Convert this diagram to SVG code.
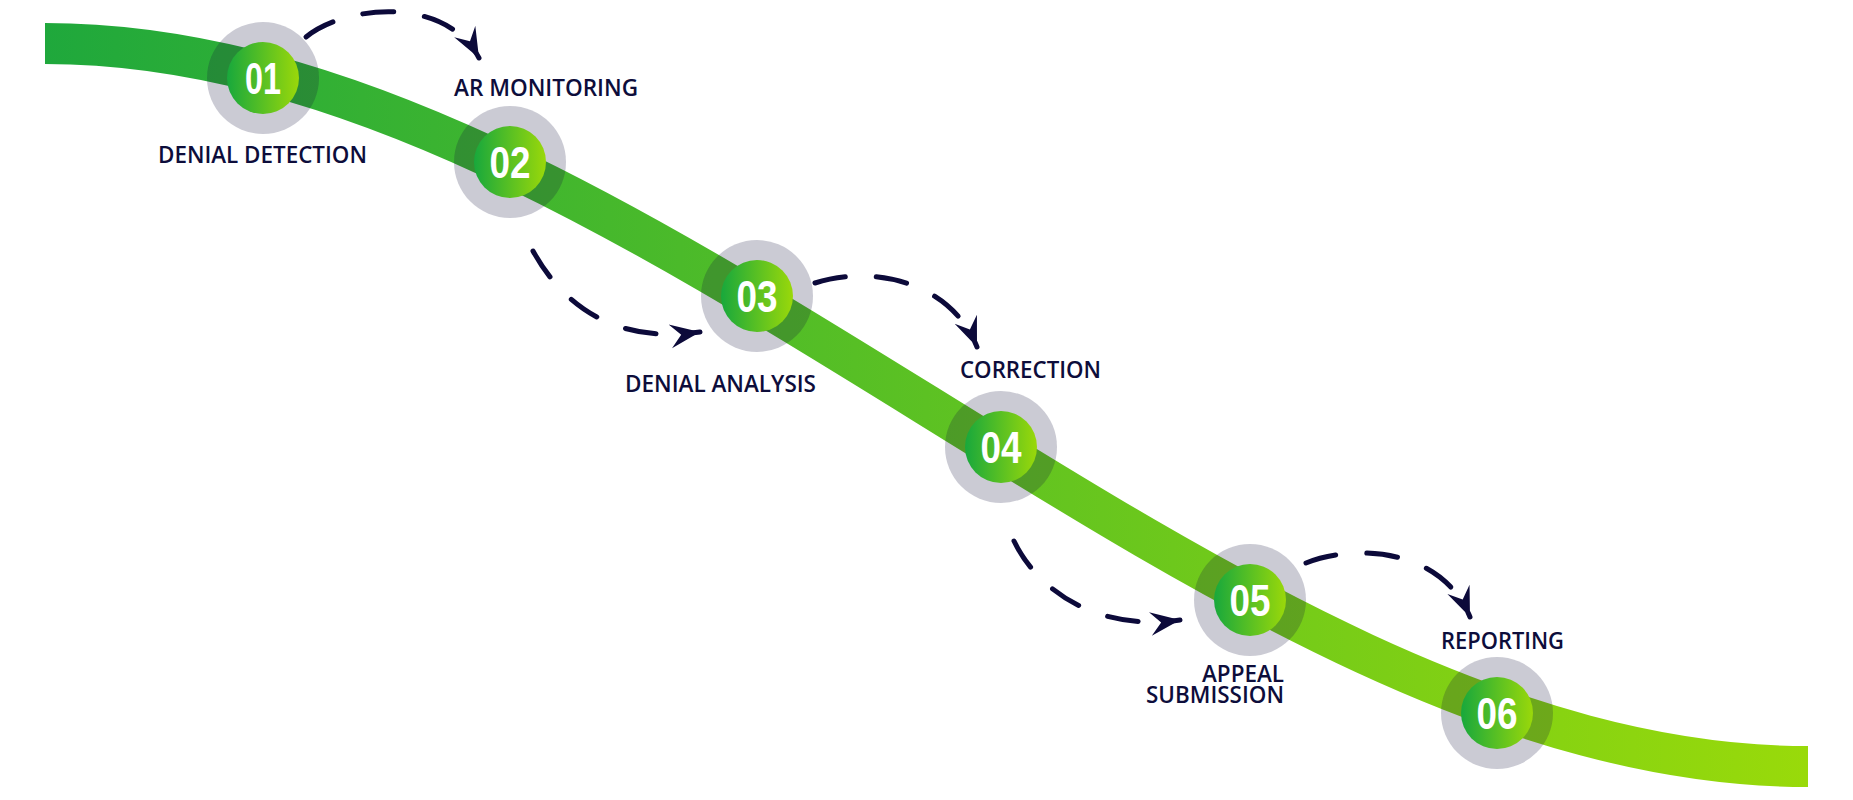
<svg xmlns="http://www.w3.org/2000/svg" width="1853" height="800" viewBox="0 0 1853 800">
  <defs>
    <linearGradient id="bandGrad" gradientUnits="userSpaceOnUse" x1="45" y1="0" x2="1808" y2="0">
      <stop offset="0" stop-color="#1fa83c"/>
      <stop offset="1" stop-color="#99da0a"/>
    </linearGradient>
    <linearGradient id="innerGrad" x1="0" y1="0" x2="1" y2="0">
      <stop offset="0" stop-color="#18a83c"/>
      <stop offset="1" stop-color="#9ad80a"/>
    </linearGradient>
    <marker id="arrow" viewBox="0 0 30 26" refX="30" refY="13" markerWidth="30" markerHeight="26" markerUnits="userSpaceOnUse" orient="auto">
      <path d="M30,13 L0,1 L11,13 L0,25 Z" fill="#0c0a3a"/>
    </marker>
    <style>
      .halo { fill: #14143c; fill-opacity: 0.22; }
      .core { fill: url(#innerGrad); }
      .num { font-family: "Liberation Sans", Arial, sans-serif; font-weight: bold; font-size: 45px; fill: #ffffff; text-anchor: middle; }
      .label { font-family: "Open Sans", "Liberation Sans", sans-serif; font-weight: 600; font-size: 23px; fill: #0d0d3b; }
      .flow { fill: none; stroke: #0c0a3a; stroke-width: 5; stroke-dasharray: 31 31; stroke-linecap: round; marker-end: url(#arrow); }
    </style>
  </defs>

  <g id="band">
    <path d="M45,43.5 C642,43.5 1211,766.5 1808,766.5" fill="none" stroke="url(#bandGrad)" stroke-width="41"/>
  </g>

  <g id="connectors">
    <path class="flow" d="M306,37 C345,5 445,-5 479,58"/>
    <path class="flow" d="M533,251 C560,300 610,345 700,332"/>
    <path class="flow" d="M815,283 C870,265 950,280 977,347"/>
    <path class="flow" d="M1014,541 C1035,585 1090,632 1180,620"/>
    <path class="flow" d="M1306,563 C1350,545 1440,545 1470,617"/>
  </g>

  <g id="step01">
    <circle class="halo" cx="263" cy="78" r="56"/>
    <circle class="core" cx="263" cy="78" r="36"/>
    <text class="num" x="263" y="94" textLength="36" lengthAdjust="spacingAndGlyphs">01</text>
    <text class="label" x="158" y="163" textLength="209" lengthAdjust="spacingAndGlyphs">DENIAL DETECTION</text>
  </g>

  <g id="step02">
    <circle class="halo" cx="510" cy="162" r="56"/>
    <circle class="core" cx="510" cy="162" r="36"/>
    <text class="num" x="510" y="178" textLength="41" lengthAdjust="spacingAndGlyphs">02</text>
    <text class="label" x="454" y="96" textLength="184" lengthAdjust="spacingAndGlyphs">AR MONITORING</text>
  </g>

  <g id="step03">
    <circle class="halo" cx="757" cy="296" r="56"/>
    <circle class="core" cx="757" cy="296" r="36"/>
    <text class="num" x="757" y="312" textLength="41" lengthAdjust="spacingAndGlyphs">03</text>
    <text class="label" x="625" y="392" textLength="191" lengthAdjust="spacingAndGlyphs">DENIAL ANALYSIS</text>
  </g>

  <g id="step04">
    <circle class="halo" cx="1001" cy="447" r="56"/>
    <circle class="core" cx="1001" cy="447" r="36"/>
    <text class="num" x="1001" y="463" textLength="41" lengthAdjust="spacingAndGlyphs">04</text>
    <text class="label" x="960" y="378" textLength="141" lengthAdjust="spacingAndGlyphs">CORRECTION</text>
  </g>

  <g id="step05">
    <circle class="halo" cx="1250" cy="600" r="56"/>
    <circle class="core" cx="1250" cy="600" r="36"/>
    <text class="num" x="1250" y="616" textLength="41" lengthAdjust="spacingAndGlyphs">05</text>
    <text class="label" x="1284" y="682" text-anchor="end" textLength="82" lengthAdjust="spacingAndGlyphs">APPEAL</text>
    <text class="label" x="1284" y="703" text-anchor="end" textLength="138" lengthAdjust="spacingAndGlyphs">SUBMISSION</text>
  </g>

  <g id="step06">
    <circle class="halo" cx="1497" cy="713" r="56"/>
    <circle class="core" cx="1497" cy="713" r="36"/>
    <text class="num" x="1497" y="729" textLength="41" lengthAdjust="spacingAndGlyphs">06</text>
    <text class="label" x="1441" y="649" textLength="123" lengthAdjust="spacingAndGlyphs">REPORTING</text>
  </g>
</svg>
